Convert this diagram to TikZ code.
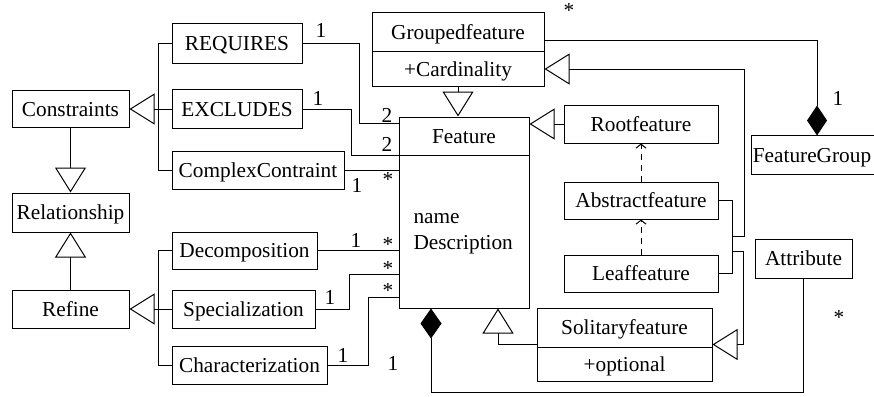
\documentclass[tikz,border=0pt]{standalone}
\usepackage{fontspec}
\setmainfont{Liberation Serif}
\usetikzlibrary{arrows.meta,calc}

\begin{document}
\begin{tikzpicture}[x=1pt, y=-1pt, line width=1pt,
  font=\fontsize{21.3}{25}\selectfont,
  box/.style={draw, rectangle, inner sep=0pt, text height=14pt, text depth=0pt},
  lbl/.style={inner sep=0pt},
  gen/.style={-{Triangle[open,length=25pt,width=31pt]}},
  dep/.style={dash pattern=on 6pt off 5pt, -{Straight Barb[length=4pt,width=10pt]}},
  comp/.style={{Diamond[length=30pt,width=21pt]}-}
]
\useasboundingbox (0,0) rectangle (874,396);

% classes on the left
\node[box, minimum width=117pt, minimum height=37pt] (cons) at (70.5,109) {Constraints};
\node[box, minimum width=117pt, minimum height=39pt] (rel)  at (70.5,212.5) {Relationship};
\node[box, minimum width=117pt, minimum height=38pt] (ref)  at (70.5,309) {Refine};

\node[box, minimum width=130pt, minimum height=39pt] (req)  at (237,43.5) {REQUIRES};
\node[box, minimum width=130pt, minimum height=39pt] (exc)  at (237,109) {EXCLUDES};
\node[box, minimum width=172pt, minimum height=38pt] (cc)   at (258,170) {ComplexContraint};
\node[box, minimum width=145pt, minimum height=37pt] (dec)  at (244.5,250.5) {Decomposition};
\node[box, minimum width=143pt, minimum height=38pt] (spec) at (243.5,309) {Specialization};
\node[box, minimum width=155pt, minimum height=38pt] (char) at (249.5,365) {Characterization};

% feature classes
\node[box, minimum width=172pt, minimum height=39pt] (gfTop) at (458,32.5) {Groupedfeature};
\node[box, minimum width=172pt, minimum height=34pt] (gfBot) at (458,69) {+Cardinality};
\node[box, minimum width=130pt, minimum height=38pt] (featTop) at (464,136) {Feature};
\node[box, minimum width=130pt, minimum height=153pt] (featBody) at (464,231.5) {};
\draw[line width=1.7pt] (featTop.south west) -- (featTop.south east);
\node[lbl, anchor=base west] (featName) at (413,223) {name};
\node[lbl, anchor=base west] (featDesc) at (413,249) {Description};

\node[box, minimum width=154pt, minimum height=38pt] (root) at (641,124) {Rootfeature};
\node[box, minimum width=154pt, minimum height=37pt] (abs)  at (641,200.5) {Abstractfeature};
\node[box, minimum width=154pt, minimum height=37pt] (leaf) at (641,273.5) {Leaffeature};
\node[box, minimum width=175pt, minimum height=39pt] (solTop) at (624.5,327.5) {Solitaryfeature};
\node[box, minimum width=175pt, minimum height=34pt] (solBot) at (624.5,364) {+optional};
% FeatureGroup: its frame runs on past the right edge of the page
\node[box, draw=none, minimum width=120pt, minimum height=38pt] (fg) at (812,155) {FeatureGroup};
\draw ([xshift=12pt]fg.north east) -- (fg.north west) -- (fg.south west) -- ([xshift=12pt]fg.south east);
\node[box, minimum width=97pt, minimum height=39pt]  (attr) at (803.5,258.5) {Attribute};

% generalisations on the left
\draw (req.west) -- ++(-13,0) |- (cc.west);
\draw[gen] (exc.west) -- (cons.east);
\draw[gen] (cons.south) -- (rel.north);
\draw[gen] (ref.north) -- (rel.south);
\draw (dec.west) -- ++(-13,0) |- (char.west);
\draw[gen] (spec.west) -- (ref.east);

% associations with Feature
\draw (req.east) -- ++(57,0) |- ([yshift=-7pt]featTop.north west);
\draw (exc.east) -- ++(49,0) |- (featTop.south west);
\draw (cc.east) -- (cc.east -| featBody.west);
\draw (dec.east) -- (dec.east -| featBody.west);
\draw (spec.east) -- ++(34,0) |- (featBody.west |- 0,274);
\draw (char.east) -- ++(41,0) |- (featBody.west |- 0,297);

% feature hierarchy
\draw[gen] (gfBot.south) -- (gfBot.south |- featTop.north);
\draw[gen] (root.west) -- (featTop.east |- root.west);
\draw[dep] (abs.north) -- (root.south);
\draw[dep] (leaf.north) -- (abs.south);
\draw (abs.east) -- ++(14,0) |- (leaf.east);
\coordinate (jg) at (732,236);
\coordinate (js) at (732,251);
\draw[gen] (jg) -- ++(12,0) |- (gfBot.east);
\draw[gen] (js) -- ++(11,0) |- ([yshift=3pt]solTop.south east);
\draw[gen] ([yshift=3pt]solTop.south west) -| ([xshift=34pt]featBody.south);

% compositions
\draw[comp] ([xshift=-33pt]featBody.south) -- ++(0,84) -| (attr.south);
\draw[-{Diamond[length=30pt,width=20pt]}] ([yshift=-8.5pt]gfTop.east) -| ([xshift=5pt]fg.north);

% multiplicities
\node[lbl] (m1)  at (321,30)  {1};
\node[lbl] (m2)  at (318,98)  {1};
\node[lbl] (m3)  at (387,115) {2};
\node[lbl] (m4)  at (387,144) {2};
\node[lbl] (m5)  at (357,185) {1};
\node[lbl] (m6)  at (388,180) {*};
\node[lbl] (m7)  at (356,240) {1};
\node[lbl] (m8)  at (388,245) {*};
\node[lbl] (m9)  at (388,269) {*};
\node[lbl] (m10) at (330,297) {1};
\node[lbl] (m11) at (388,291) {*};
\node[lbl] (m12) at (343,355) {1};
\node[lbl] (m13) at (393,363) {1};
\node[lbl] (m14) at (569,11)  {*};
\node[lbl] (m15) at (838,98)  {1};
\node[lbl] (m16) at (839,318) {*};
\end{tikzpicture}
\end{document}
